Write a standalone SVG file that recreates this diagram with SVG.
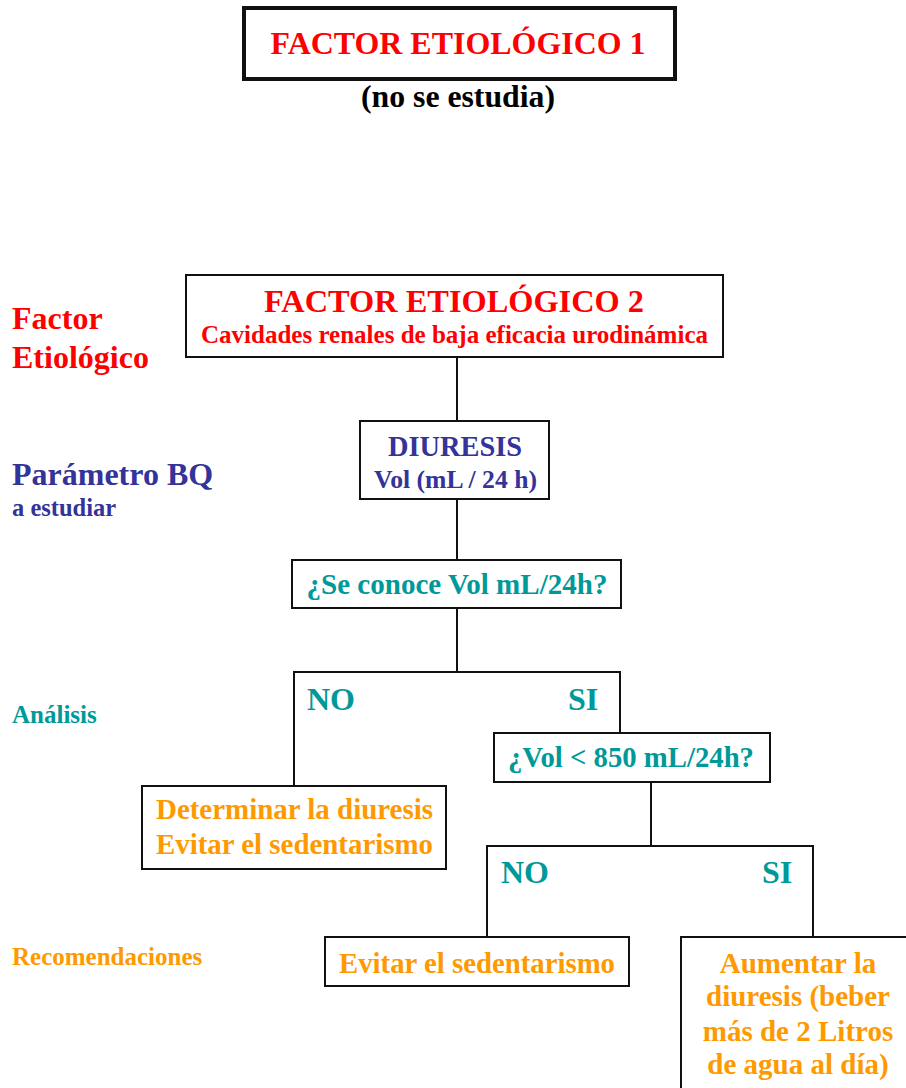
<svg xmlns="http://www.w3.org/2000/svg" width="906" height="1088" viewBox="0 0 906 1088">
<style>
text{font-family:"Liberation Serif","Times New Roman",serif;font-weight:bold}
.box{fill:#fff;stroke:#111;stroke-width:2}
.ln{fill:none;stroke:#111;stroke-width:2}
.red{fill:#FF0000}.navy{fill:#333399}.teal{fill:#009999}.orange{fill:#FF9900}.blk{fill:#000}
.c{text-anchor:middle}
</style>
<rect width="906" height="1088" fill="#fff"/>
<g id="labels">
<text class="red" x="12" y="329" font-size="32">Factor</text>
<text class="red" x="12" y="368" font-size="32">Etiológico</text>
<text class="navy" x="12" y="485" font-size="32">Parámetro BQ</text>
<text class="navy" x="12" y="516" font-size="24.5">a estudiar</text>
<text class="teal" x="12" y="723" font-size="25">Análisis</text>
<text class="orange" x="12" y="965" font-size="25">Recomendaciones</text>
</g>
<g id="connectors">
<line class="ln" x1="457" y1="357" x2="457" y2="421"/>
<line class="ln" x1="457" y1="499" x2="457" y2="560"/>
<line class="ln" x1="457" y1="608" x2="457" y2="672"/>
<path class="ln" d="M294,786 V672 H620 V733"/>
<line class="ln" x1="651" y1="782" x2="651" y2="846"/>
<path class="ln" d="M487,937 V846 H813 V937"/>
<text class="teal" x="307" y="710" font-size="32">NO</text>
<text class="teal" x="568" y="710" font-size="32">SI</text>
<text class="teal" x="501" y="883" font-size="32">NO</text>
<text class="teal" x="762" y="883" font-size="32">SI</text>
</g>
<g id="factor1">
<rect x="244" y="8" width="431" height="71" fill="#fff" stroke="#111" stroke-width="4"/>
<text class="red c" x="458" y="54" font-size="32" textLength="375" lengthAdjust="spacingAndGlyphs">FACTOR ETIOLÓGICO 1</text>
<text class="blk c" x="458" y="107" font-size="32" textLength="194" lengthAdjust="spacingAndGlyphs">(no se estudia)</text>
</g>
<g id="factor2">
<rect class="box" x="186" y="275" width="537" height="82"/>
<text class="red c" x="454" y="312" font-size="32" textLength="380" lengthAdjust="spacingAndGlyphs">FACTOR ETIOLÓGICO 2</text>
<text class="red c" x="454.5" y="343" font-size="25" textLength="507" lengthAdjust="spacingAndGlyphs">Cavidades renales de baja eficacia urodinámica</text>
</g>
<g id="diuresis">
<rect class="box" x="360" y="421" width="189" height="78"/>
<text class="navy c" x="455" y="456" font-size="29" textLength="134" lengthAdjust="spacingAndGlyphs">DIURESIS</text>
<text class="navy c" x="455.5" y="488" font-size="25" textLength="163" lengthAdjust="spacingAndGlyphs">Vol (mL / 24 h)</text>
</g>
<g id="q1">
<rect class="box" x="292" y="560" width="329" height="48"/>
<text class="teal c" x="457" y="594" font-size="29" textLength="301" lengthAdjust="spacingAndGlyphs">¿Se conoce Vol mL/24h?</text>
</g>
<g id="q2">
<rect class="box" x="494" y="733" width="276" height="49"/>
<text class="teal c" x="631" y="767" font-size="29" textLength="246" lengthAdjust="spacingAndGlyphs">¿Vol &lt; 850 mL/24h?</text>
</g>
<g id="rec1">
<rect class="box" x="142" y="786" width="304" height="83"/>
<text class="orange" x="156" y="819" font-size="29" textLength="277" lengthAdjust="spacingAndGlyphs">Determinar la diuresis</text>
<text class="orange" x="156" y="854" font-size="29" textLength="277" lengthAdjust="spacingAndGlyphs">Evitar el sedentarismo</text>
</g>
<g id="rec2">
<rect class="box" x="325" y="937" width="304" height="49"/>
<text class="orange" x="339" y="973" font-size="29" textLength="276" lengthAdjust="spacingAndGlyphs">Evitar el sedentarismo</text>
</g>
<g id="rec3">
<rect class="box" x="681" y="937" width="240" height="160"/>
<text class="orange c" x="798" y="973" font-size="29">Aumentar la</text>
<text class="orange c" x="798" y="1006" font-size="29">diuresis (beber</text>
<text class="orange c" x="798" y="1041" font-size="29">más de 2 Litros</text>
<text class="orange c" x="798" y="1074" font-size="29">de agua al día)</text>
</g>
</svg>
